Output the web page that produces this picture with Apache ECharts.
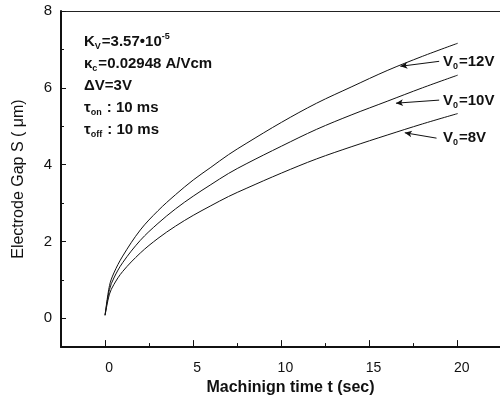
<!DOCTYPE html>
<html>
<head>
<meta charset="utf-8">
<script src="https://cdn.jsdelivr.net/npm/echarts@6/dist/echarts.min.js"></script>
<style>
  html, body { margin: 0; padding: 0; background: #fff; }
  #chart { width: 500px; height: 401px; }
</style>
</head>
<body>
<div id="chart"></div>
<script>
// machining time (sec)
const times = [0, 0.25, 0.5, 1, 2, 3, 4, 5, 6, 7, 8, 10, 12, 14, 16, 18, 20];
// electrode gap S (um)
const gap12V = [0.08, 0.85, 1.18, 1.62, 2.3, 2.8, 3.22, 3.6, 3.93, 4.26, 4.55, 5.1, 5.6, 6.03, 6.45, 6.82, 7.16];
const gap10V = [0.08, 0.75, 1.05, 1.45, 2.03, 2.47, 2.85, 3.18, 3.48, 3.77, 4.02, 4.48, 4.92, 5.3, 5.65, 6.0, 6.33];
const gap8V = [0.08, 0.63, 0.88, 1.22, 1.7, 2.08, 2.4, 2.68, 2.93, 3.17, 3.38, 3.78, 4.15, 4.47, 4.77, 5.06, 5.33];

const xTicks = [0, 5, 10, 15, 20];
const xMinorTicks = [2.5, 7.5, 12.5, 17.5];
const yTicks = [0, 2, 4, 6, 8];
const yMinorTicks = [1, 3, 5, 7];

// arrow pointers (data coords): [from, to]
const arrows = [
  [[18.95, 6.69], [16.75, 6.56]],
  [[18.95, 5.68], [16.5, 5.6]],
  [[18.8, 4.69], [17.0, 4.83]]
];

const FONT = '"Liberation Sans", Arial, sans-serif';
const pair = (vals) => times.map((t, i) => [t, vals[i]]);

const chart = echarts.init(document.getElementById('chart'));

const curve = (name, vals, withArrows) => ({
  name: name,
  type: 'line',
  data: pair(vals),
  smooth: 0.35,
  showSymbol: false,
  silent: true,
  lineStyle: { color: '#111', width: 1 },
  markLine: withArrows ? {
    silent: true,
    symbol: ['none', 'arrow'],
    symbolSize: [5, 7],
    label: { show: false },
    lineStyle: { color: '#111', width: 1, type: 'solid' },
    data: arrows.map(a => [{ coord: a[0] }, { coord: a[1] }])
  } : undefined
});

const subText = (label) => ({
  text: label,
  rich: {
    b: { fontFamily: FONT, fontSize: 15, fontWeight: 'bold', lineHeight: 20, fill: '#111' },
    s: { fontFamily: FONT, fontSize: 9, fontWeight: 'bold', lineHeight: 20, fill: '#111', padding: [10, 1, 0, 0] }
  }
});

const option = {
  backgroundColor: '#fff',
  animation: false,
  grid: { left: 61, right: 0, top: 11, bottom: 50 },
  xAxis: [
    {
      type: 'value', min: -2.5, max: 22.4,
      name: 'Machinign time t (sec)',
      nameLocation: 'middle',
      nameGap: 32,
      nameTextStyle: { fontFamily: FONT, fontSize: 16, fontWeight: 'bold', color: '#111', padding: [0, 0, 0, 20] },
      axisLine: { onZero: false, lineStyle: { color: '#111', width: 2 } },
      axisTick: { inside: true, length: 7, customValues: xTicks, lineStyle: { color: '#111' } },
      axisLabel: { customValues: xTicks, fontFamily: FONT, fontSize: 14, color: '#111', margin: 14, padding: [0, 0, 0, 8] },
      splitLine: { show: false }
    },
    {
      type: 'value', min: -2.5, max: 22.4, position: 'bottom',
      axisLine: { show: false, onZero: false },
      axisTick: { inside: true, length: 4, customValues: xMinorTicks, lineStyle: { color: '#111' } },
      axisLabel: { show: false },
      splitLine: { show: false }
    },
    {
      type: 'value', min: -2.5, max: 22.4, position: 'top',
      axisLine: { show: true, onZero: false, lineStyle: { color: '#222', width: 1 } },
      axisTick: { show: false },
      axisLabel: { show: false },
      splitLine: { show: false }
    }
  ],
  yAxis: [
    {
      type: 'value', min: -0.75, max: 8,
      name: 'Electrode Gap S ( \u03bcm)',
      nameLocation: 'middle',
      nameGap: 34,
      nameTextStyle: { fontFamily: FONT, fontSize: 16, color: '#111' },
      axisLine: { onZero: false, lineStyle: { color: '#111', width: 2 } },
      axisTick: { inside: true, length: 5, customValues: yTicks, lineStyle: { color: '#111' } },
      axisLabel: { customValues: yTicks, fontFamily: FONT, fontSize: 15, color: '#111', margin: 9 },
      splitLine: { show: false }
    },
    {
      type: 'value', min: -0.75, max: 8, position: 'left',
      axisLine: { show: false, onZero: false },
      axisTick: { inside: true, length: 3, customValues: yMinorTicks, lineStyle: { color: '#111' } },
      axisLabel: { show: false },
      splitLine: { show: false }
    }
  ],
  series: [
    curve('V0=12V', gap12V, true),
    curve('V0=10V', gap10V, false),
    curve('V0=8V', gap8V, false)
  ],
  graphic: [
    {
      type: 'text', left: 84, top: 32,
      style: {
        text: '{b|K}{s|V}{b|=3.57\u202210}{p|-5}\n{b|\u03ba}{s|c}{b|=0.02948 A/Vcm}\n{b|\u0394V=3V}\n{b|\u03c4}{s|on}{b| : 10 ms}\n{b|\u03c4}{s|off}{b| : 10 ms}',
        fill: '#111',
        rich: {
          b: { fontFamily: FONT, fontSize: 15, fontWeight: 'bold', lineHeight: 22, fill: '#111' },
          s: { fontFamily: FONT, fontSize: 9, fontWeight: 'bold', lineHeight: 22, fill: '#111', padding: [10, 1, 0, 0] },
          p: { fontFamily: FONT, fontSize: 9, fontWeight: 'bold', lineHeight: 22, fill: '#111', padding: [0, 0, 9, 0] }
        }
      }
    },
    { type: 'text', left: 443, top: 52, style: subText('{b|V}{s|0}{b|=12V}') },
    { type: 'text', left: 443, top: 91, style: subText('{b|V}{s|0}{b|=10V}') },
    { type: 'text', left: 443, top: 128, style: subText('{b|V}{s|0}{b|=8V}') }
  ]
};

chart.setOption(option);
</script>
</body>
</html>
